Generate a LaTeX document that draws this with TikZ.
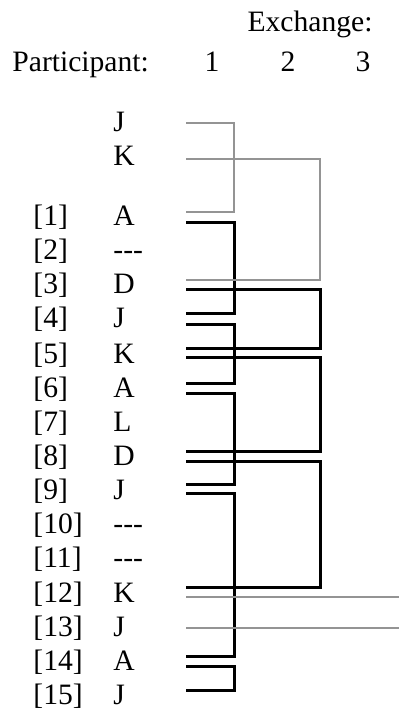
\documentclass[tikz,border=0pt]{standalone}
\usepackage{fontspec}
\setmainfont{Liberation Serif}

\begin{document}
\begin{tikzpicture}[x=0.5pt,y=-0.5pt,line join=miter,
    every node/.style={font=\fontsize{14.8}{17}\selectfont,inner sep=0pt},
    idx/.style={anchor=base west},
    who/.style={anchor=base west},
    xch/.style={draw=black,line width=1.5pt},
    xgr/.style={draw=black!42,line width=1.2pt}]
  \useasboundingbox (0,0) rectangle (399,715);

  % Header
  \node[anchor=base] (exch) at (310,32) {Exchange:};
  \node[anchor=base west] (part) at (12,72) {Participant:};
  \node[anchor=base] (n1) at (212,72) {1};
  \node[anchor=base] (n2) at (288,72) {2};
  \node[anchor=base] (n3) at (363,72) {3};

  % Columns where the exchanges turn
  \coordinate (x1) at (234,0);
  \coordinate (x2) at (320,0);
  \coordinate (x3) at (399,0);

  % Participants before the turns
  \node[who] (wJ) at (113,132) {J};
  \node[who] (wK) at (113,166) {K};

  % Numbered turns
  \node[idx] (i1) at (33,226) {[1]};   \node[who] (w1) at (113,226) {A};
  \node[idx] (i2) at (33,260) {[2]};   \node[who] (w2) at (113,260) {-{}-{}-};
  \node[idx] (i3) at (33,294) {[3]};   \node[who] (w3) at (113,294) {D};
  \node[idx] (i4) at (33,328) {[4]};   \node[who] (w4) at (113,328) {J};
  \node[idx] (i5) at (33,363) {[5]};   \node[who] (w5) at (113,363) {K};
  \node[idx] (i6) at (33,397) {[6]};   \node[who] (w6) at (113,397) {A};
  \node[idx] (i7) at (33,431) {[7]};   \node[who] (w7) at (113,431) {L};
  \node[idx] (i8) at (33,465) {[8]};   \node[who] (w8) at (113,465) {D};
  \node[idx] (i9) at (33,499) {[9]};   \node[who] (w9) at (113,499) {J};
  \node[idx] (i10) at (33,533) {[10]}; \node[who] (w10) at (113,533) {-{}-{}-};
  \node[idx] (i11) at (33,567) {[11]}; \node[who] (w11) at (113,567) {-{}-{}-};
  \node[idx] (i12) at (33,602) {[12]}; \node[who] (w12) at (113,602) {K};
  \node[idx] (i13) at (33,636) {[13]}; \node[who] (w13) at (113,636) {J};
  \node[idx] (i14) at (33,670) {[14]}; \node[who] (w14) at (113,670) {A};
  \node[idx] (i15) at (33,704) {[15]}; \node[who] (w15) at (113,704) {J};

  % Line ends (a = incoming, b = outgoing)
  \coordinate (bJ) at (186,123);
  \coordinate (bK) at (186,159);
  \coordinate (a1) at (186,212);  \coordinate (b1) at (186,223);
  \coordinate (a3) at (186,280);  \coordinate (b3) at (186,290);
  \coordinate (a4) at (186,314);  \coordinate (b4) at (186,324);
  \coordinate (a5) at (186,348);  \coordinate (b5) at (186,357);
  \coordinate (a6) at (186,383);  \coordinate (b6) at (186,393);
  \coordinate (a8) at (186,451);  \coordinate (b8) at (186,461);
  \coordinate (a9) at (186,484);  \coordinate (b9) at (186,493);
  \coordinate (a12) at (186,587); \coordinate (b12) at (186,597);
  \coordinate (b13) at (186,628);
  \coordinate (a14) at (186,656); \coordinate (b14) at (186,666);
  \coordinate (a15) at (186,690);

  % Exchanges
  \draw[xch] (b1) -- (b1 -| x1) |- (a4);
  \draw[xch] (b3) -- (b3 -| x2) |- (a5);
  \draw[xch] (b4) -- (b4 -| x1) |- (a6);
  \draw[xch] (b5) -- (b5 -| x2) |- (a8);
  \draw[xch] (b6) -- (b6 -| x1) |- (a9);
  \draw[xch] (b8) -- (b8 -| x2) |- (a12);
  \draw[xch] (b9) -- (b9 -| x1) |- (a14);
  \draw[xch] (b14) -- (b14 -| x1) |- (a15);

  % Grey ones (outside the numbered run)
  \draw[xgr] (bJ) -- (bJ -| x1) |- (a1);
  \draw[xgr] (bK) -- (bK -| x2) |- (a3);
  \draw[xgr] (b12) -- (b12 -| x3);
  \draw[xgr] (b13) -- (b13 -| x3);
\end{tikzpicture}
\end{document}
